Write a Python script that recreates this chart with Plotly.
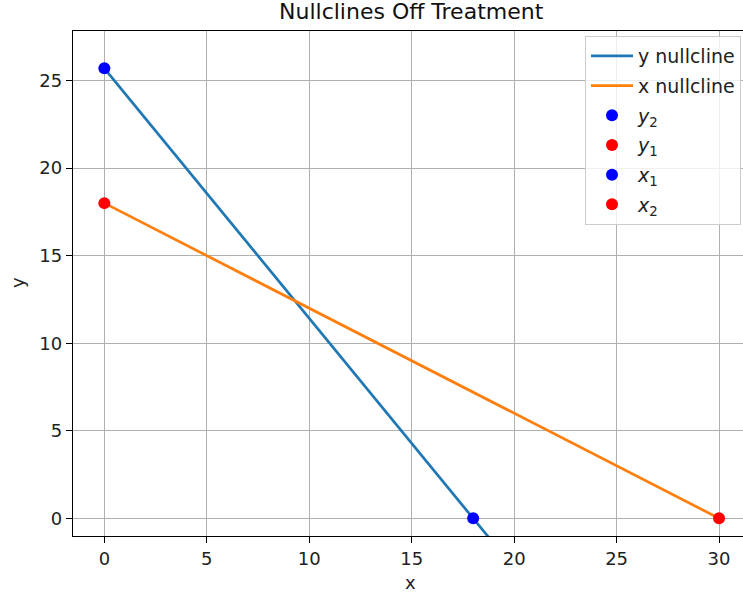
import plotly.graph_objects as go

# Data
y_null_x = [0, 18, 19.4]
y_null_y = [25.7, 0, -2.0]
x_null_x = [0, 30]
x_null_y = [18, 0]
pt_y2 = ([0], [25.7])
pt_y1 = ([0], [18])
pt_x1 = ([18], [0])
pt_x2 = ([30], [0])
x_ticks = [0, 5, 10, 15, 20, 25, 30]
y_ticks = [0, 5, 10, 15, 20, 25]

FONT = "DejaVu Sans"
W, H = 743, 598
ML, MR, MT, MB = 73, 0, 31, 62

fig = go.Figure()
fig.add_trace(go.Scatter(x=y_null_x, y=y_null_y, mode="lines", name="y nullcline",
                         legendgroup="g1",
                         line=dict(color="#1f77b4", width=2.7)))
fig.add_trace(go.Scatter(x=x_null_x, y=x_null_y, mode="lines", name="x nullcline",
                         legendgroup="g2",
                         line=dict(color="#ff7f0e", width=2.7)))
for i, ((px, py), nm, col) in enumerate([(pt_y2, "<i>y</i><sub>2</sub>", "blue"),
                                         (pt_y1, "<i>y</i><sub>1</sub>", "red"),
                                         (pt_x1, "<i>x</i><sub>1</sub>", "blue"),
                                         (pt_x2, "<i>x</i><sub>2</sub>", "red")]):
    fig.add_trace(go.Scatter(x=px, y=py, mode="markers", name=nm,
                             legendgroup="p%d" % i,
                             marker=dict(color=col, size=12, line=dict(width=0)),
                             cliponaxis=False))

pw = W - ML - MR
ph = H - MT - MB

fig.update_layout(
    width=W, height=H,
    margin=dict(l=ML, r=MR, t=MT, b=MB, pad=0),
    paper_bgcolor="white", plot_bgcolor="white",
    font=dict(family=FONT, size=18, color="#222"),
    showlegend=True,
    legend=dict(x=(741 - ML) / pw, y=(H - MB - 36) / ph, xanchor="right", yanchor="top",
                bgcolor="rgba(255,255,255,0.8)", bordercolor="#cccccc", borderwidth=1,
                itemwidth=42, tracegroupgap=2, traceorder="grouped",
                font=dict(family=FONT, size=19, color="#222")),
    xaxis=dict(range=[-1.53, 31.17], tickvals=x_ticks, ticks="outside", ticklen=6,
               tickwidth=1.4, tickcolor="black", showline=True, linecolor="black",
               linewidth=1.4, mirror=True, showgrid=True, gridcolor="#b0b0b0",
               gridwidth=1.4, zeroline=False, tickfont=dict(size=18)),
    yaxis=dict(range=[-1.01, 27.83], tickvals=y_ticks, ticks="outside", ticklen=6,
               tickwidth=1.4, tickcolor="black", showline=True, linecolor="black",
               linewidth=1.4, mirror=False, showgrid=True, gridcolor="#b0b0b0",
               gridwidth=1.4, zeroline=False, tickfont=dict(size=18)),
    annotations=[
        dict(text="Nullclines Off Treatment", xref="paper", yref="paper",
             x=(411.5 - ML) / pw, y=(H - MB - 12) / ph, xanchor="center", yanchor="middle",
             showarrow=False, font=dict(family=FONT, size=22, color="#111")),
        dict(text="x", xref="paper", yref="paper",
             x=(410 - ML) / pw, y=(H - MB - 582) / ph, xanchor="center", yanchor="middle",
             showarrow=False, font=dict(family=FONT, size=18, color="#222")),
        dict(text="y", xref="paper", yref="paper", textangle=-90,
             x=(17 - ML) / pw, y=(H - MB - 283) / ph, xanchor="center", yanchor="middle",
             showarrow=False, font=dict(family=FONT, size=18, color="#222")),
    ],
)

fig.write_html("out.html")
